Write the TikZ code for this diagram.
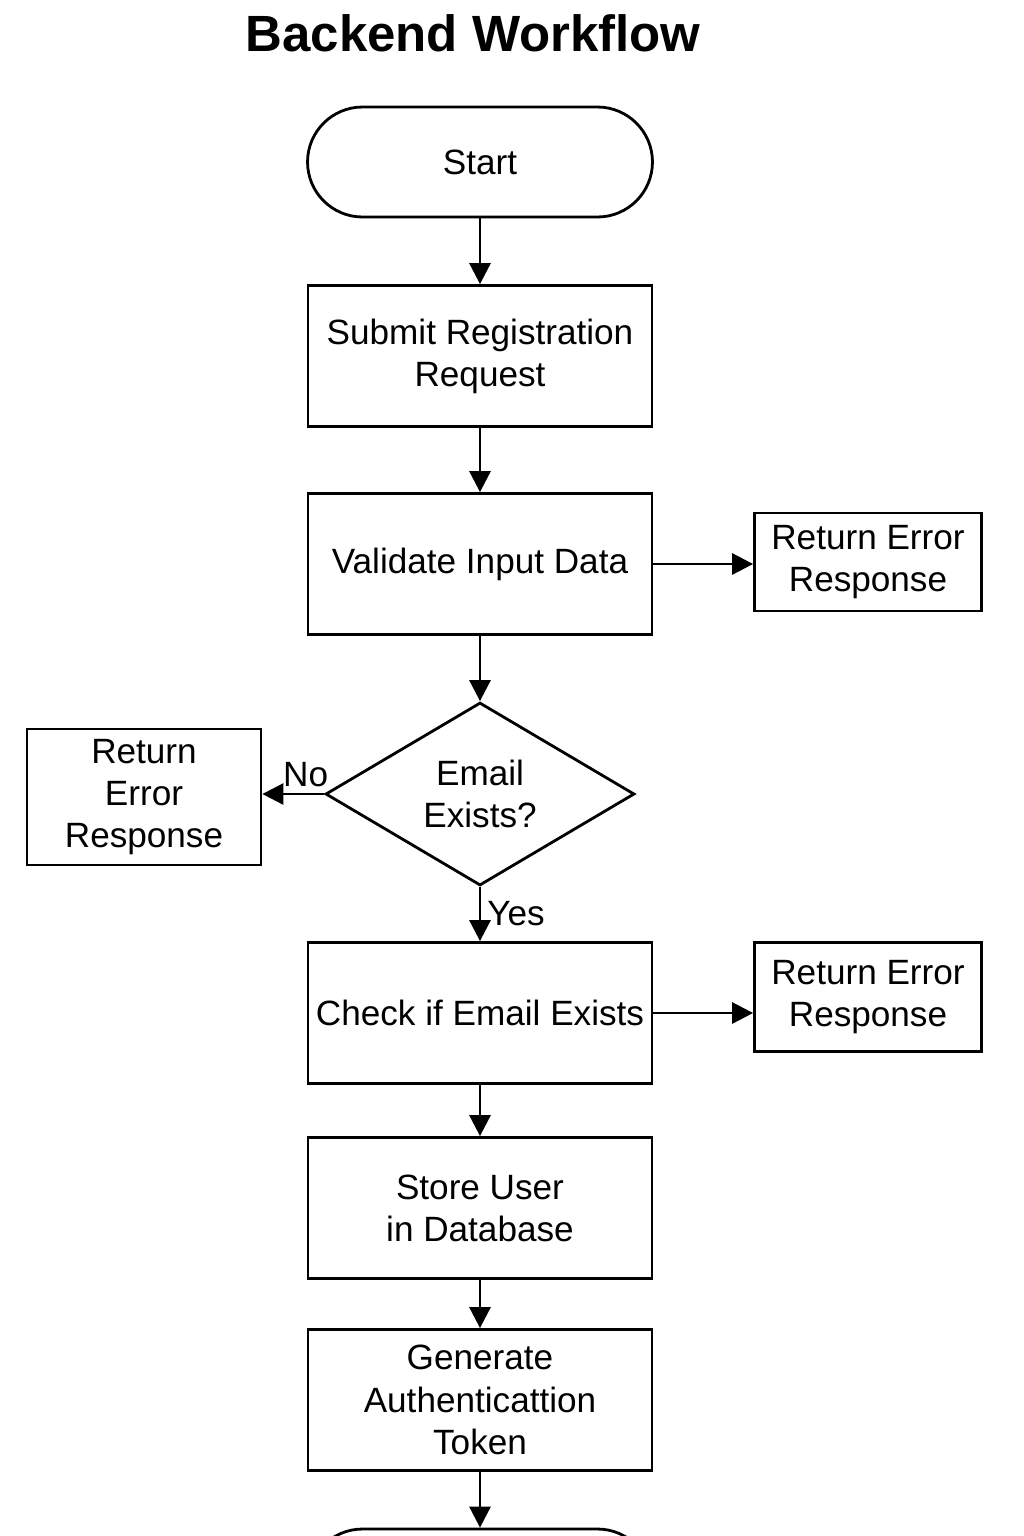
\documentclass[tikz,border=0pt]{standalone}
\usepackage{fontspec}
\setmainfont{Liberation Sans}
\usetikzlibrary{shapes.geometric,arrows.meta,positioning}

\begin{document}
\begin{tikzpicture}[
    x=0.02cm, y=-0.02cm,
    line width=1.6pt,
    body/.style={font=\fontsize{20}{24}\selectfont},
    term/.style={draw, rounded corners=1.1cm, minimum width=6.9cm, minimum height=2.2cm, body},
    proc/.style={draw, minimum width=6.88cm, minimum height=2.82cm, inner sep=2pt, align=center, body},
    errbox/.style={draw, inner sep=2pt, align=center, body},
    decision/.style={draw, diamond, minimum width=6.18cm, minimum height=3.66cm, inner sep=0pt, align=center, body},
    arrow/.style={-{Triangle[length=12pt, width=12pt]}}
]
    \clip (0,0) rectangle (1024,1536);

    % Title
    \node[font=\bfseries\fontsize{29}{34}\selectfont] (title) at (473,33) {Backend Workflow};

    % Main column
    \node[term] (start) at (480,162) {Start};
    \node[proc] (submit) at (480,356) {Submit Registration\\Request};
    \node[proc] (valid) at (480,564) {Validate Input Data};
    \node[decision] (email) at (480,794) {Email\\Exists?};
    \node[proc] (check) at (480,1013) {Check if Email Exists};
    \node[proc] (store) at (480,1208) {Store User\\in Database};
    \node[proc] (token) at (480,1400) {Generate\\Authenticattion\\Token};
    \node[term] (stop) at (480,1584) {};

    % Error responses
    \node[errbox, minimum width=4.54cm, minimum height=1.96cm] (err1) at (868,562) {Return Error\\Response};
    \node[errbox, minimum width=4.68cm, minimum height=2.72cm] (err2) at (144,797) {Return\\Error\\Response};
    \node[errbox, minimum width=4.54cm, minimum height=2.18cm] (err3) at (868,997) {Return Error\\Response};

    % Arrows
    \draw[arrow] (start) -- (submit);
    \draw[arrow] (submit) -- (valid);
    \draw[arrow] (valid.east) -- (valid.east -| err1.west);
    \draw[arrow] (valid) -- (email);
    \draw[arrow] (email.west) -- node[pos=0.3, above, body] {No} (email.west -| err2.east);
    \draw[arrow] (email.south) -- node[right, body] {Yes} (check);
    \draw[arrow] (check.east) -- (check.east -| err3.west);
    \draw[arrow] (check) -- (store);
    \draw[arrow] (store) -- (token);
    \draw[arrow] (token) -- (stop);
\end{tikzpicture}
\end{document}
